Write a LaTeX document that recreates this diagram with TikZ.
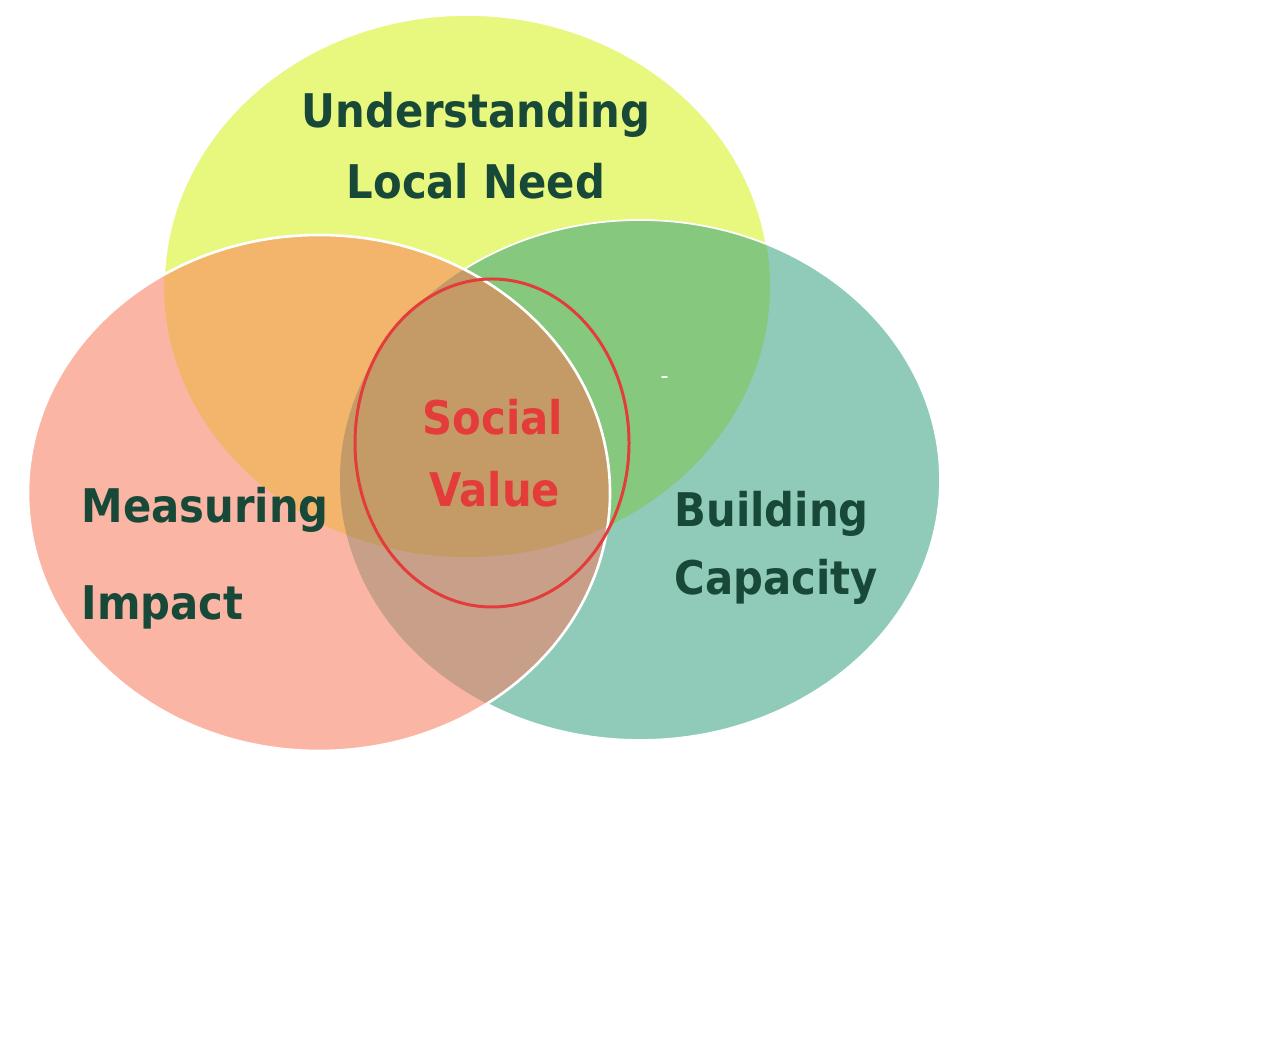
\documentclass[tikz,border=0pt]{standalone}
\usepackage{fontspec}
\setmainfont{DejaVu Sans Condensed}
\usepackage{tikz}
\usetikzlibrary{calc,positioning}
\definecolor{socialyellow}{RGB}{232,247,126}
\definecolor{socialpink}{RGB}{250,181,165}
\definecolor{socialteal}{RGB}{144,203,186}
\definecolor{socialorange}{RGB}{242,181,107}
\definecolor{socialgreen}{RGB}{134,200,126}
\definecolor{socialbrown}{RGB}{196,155,102}
\definecolor{socialmauve}{RGB}{200,159,136}
\definecolor{socialink}{RGB}{24,72,56}
\definecolor{socialred}{RGB}{228,60,58}
\newcommand{\ellneed}{(4.67,7.65) ellipse[x radius=3.03,y radius=2.71]}
\newcommand{\ellimpact}{(3.19,5.58) ellipse[x radius=2.91,y radius=2.58]}
\newcommand{\ellcapacity}{(6.40,5.71) ellipse[x radius=3.00,y radius=2.60]}

\begin{document}
\begin{tikzpicture}[line cap=round,line join=round,
 lbl/.style={font=\bfseries\fontsize{13.2}{15}\selectfont,text=socialink,inner sep=0pt}]
 \useasboundingbox (0,0) rectangle (12.8,10.51);
 % Górna elipsa i prawa elipsa z częścią wspólną.
 \fill[socialyellow] \ellneed;
 \draw[white,line width=.5pt] \ellneed;
 \fill[socialteal] \ellcapacity;
 \begin{scope}
  \clip \ellneed;
  \fill[socialgreen] \ellcapacity;
 \end{scope}
 \draw[white,line width=.5pt] \ellcapacity;
 % Lewa elipsa: kładziona na wierzch, z białym brzegiem.
 \fill[socialpink] \ellimpact;
 \begin{scope}
  \clip \ellimpact;
  \fill[socialorange] \ellneed;
  \fill[socialmauve] \ellcapacity;
  \clip \ellneed;
  \fill[socialbrown] \ellcapacity;
 \end{scope}
 \draw[white,line width=.75pt] \ellimpact;
 \draw[white,line width=.5pt] (6.62,6.74)--(6.67,6.74);
 % Wyróżniony środek.
 \draw[socialred,line width=.85pt]
  (4.92,6.08) ellipse[x radius=1.37,y radius=1.64];
 \node[lbl,anchor=base] (need1) at (4.76,9.23) {Understanding};
 \node[lbl,anchor=base] (need2) at (4.76,8.52) {Local Need};
 \node[lbl,anchor=base,text=socialred] (value1) at (4.93,6.16) {Social};
 \node[lbl,anchor=base,text=socialred] (value2) at (4.95,5.44) {Value};
 \node[lbl,anchor=base west] (impact1) at (0.81,5.28) {Measuring};
 \node[lbl,anchor=base west] (impact2) at (0.81,4.31) {Impact};
 \node[lbl,anchor=base west] (capacity1) at (6.74,5.24) {Building};
 \node[lbl,anchor=base west] (capacity2) at (6.74,4.56) {Capacity};
\end{tikzpicture}
\end{document}
